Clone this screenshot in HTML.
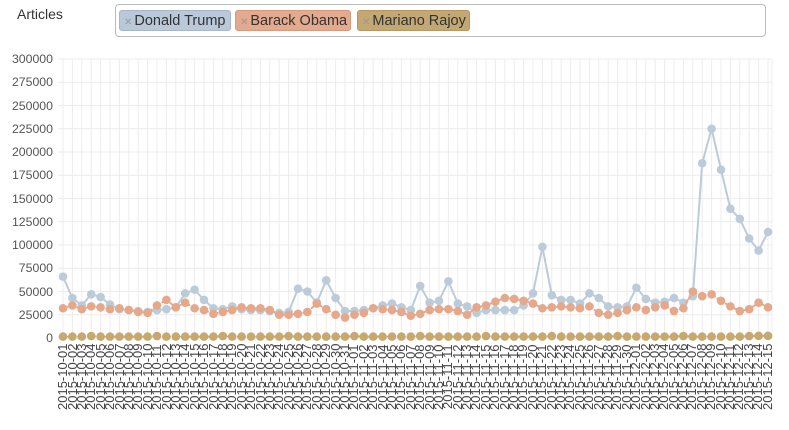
<!DOCTYPE html>
<html><head><meta charset="utf-8"><style>
body{margin:0;width:789px;height:430px;background:#fff;font-family:"Liberation Sans",Helvetica,Arial,sans-serif;position:relative;overflow:hidden}
.t{position:absolute;top:10px;height:21px;border-radius:3px;font-size:14.5px;line-height:21px;color:#333;padding-left:4px;box-sizing:border-box;white-space:nowrap}
.t b{color:#999;font-weight:normal;font-size:10px;margin-right:2px}
#labs{position:absolute;left:58.3px;top:344px;display:flex}
#labs span{display:block;width:9.4px;height:80px;writing-mode:vertical-rl;transform:rotate(180deg);text-align:right;font-size:13px;line-height:9.4px;color:#444;overflow:visible;white-space:nowrap}
</style></head><body>
<div style="position:absolute;left:17px;top:6px;font-size:14px;color:#333">Articles</div>
<div style="position:absolute;left:115px;top:4px;width:651px;height:33px;border:1px solid #bbb;border-radius:4px;box-sizing:border-box"></div>
<div class="t" style="left:119px;width:112px;background:#b9c9d9;border:1px solid #a7b7c7"><b>✕</b>Donald Trump</div>
<div class="t" style="left:235px;width:116px;background:#e3aa8e;border:1px solid #d39a7e"><b>✕</b>Barack Obama</div>
<div class="t" style="left:357px;width:113px;background:#c3a874;border:1px solid #b39864"><b>✕</b>Mariano Rajoy</div>
<svg id="s" width="789" height="430" style="position:absolute;left:0;top:0" font-family="Liberation Sans, sans-serif" font-size="12.3" fill="#555">
<g text-anchor="end">
<text x="53" y="63">300000</text><text x="53" y="86">275000</text><text x="53" y="110">250000</text><text x="53" y="133">225000</text><text x="53" y="156">200000</text><text x="53" y="179">175000</text><text x="53" y="203">150000</text><text x="53" y="226">125000</text><text x="53" y="249">100000</text><text x="53" y="272">75000</text><text x="53" y="296">50000</text><text x="53" y="319">25000</text><text x="53" y="342">0</text>
</g>
<g id="g"></g>
</svg>
<div id="labs">
<span>2015-10-01</span><span>2015-10-02</span><span>2015-10-03</span><span>2015-10-04</span><span>2015-10-05</span><span>2015-10-06</span><span>2015-10-07</span><span>2015-10-08</span><span>2015-10-09</span><span>2015-10-10</span><span>2015-10-11</span><span>2015-10-12</span><span>2015-10-13</span><span>2015-10-14</span><span>2015-10-15</span><span>2015-10-16</span><span>2015-10-17</span><span>2015-10-18</span><span>2015-10-19</span><span>2015-10-20</span><span>2015-10-21</span><span>2015-10-22</span><span>2015-10-23</span><span>2015-10-24</span><span>2015-10-25</span><span>2015-10-26</span><span>2015-10-27</span><span>2015-10-28</span><span>2015-10-29</span><span>2015-10-30</span><span>2015-10-31</span>
<span>2015-11-01</span><span>2015-11-02</span><span>2015-11-03</span><span>2015-11-04</span><span>2015-11-05</span><span>2015-11-06</span><span>2015-11-07</span><span>2015-11-08</span><span>2015-11-09</span><span>2015-11-10</span><span>2015-11-11</span><span>2015-11-12</span><span>2015-11-13</span><span>2015-11-14</span><span>2015-11-15</span><span>2015-11-16</span><span>2015-11-17</span><span>2015-11-18</span><span>2015-11-19</span><span>2015-11-20</span><span>2015-11-21</span><span>2015-11-22</span><span>2015-11-23</span><span>2015-11-24</span><span>2015-11-25</span><span>2015-11-26</span><span>2015-11-27</span><span>2015-11-28</span><span>2015-11-29</span><span>2015-11-30</span>
<span>2015-12-01</span><span>2015-12-02</span><span>2015-12-03</span><span>2015-12-04</span><span>2015-12-05</span><span>2015-12-06</span><span>2015-12-07</span><span>2015-12-08</span><span>2015-12-09</span><span>2015-12-10</span><span>2015-12-11</span><span>2015-12-12</span><span>2015-12-13</span><span>2015-12-14</span><span>2015-12-15</span>
</div>
<script>
var T=[66,43,35,47,44,36,31,30,29,28,30,31,33,48,52,41,32,31,34,31,30,30,29,27,28,53,50,38,62,43,29,29,30,32,35,37,33,30,56,38,40,61,37,34,27,30,30,30,30,35,48,98,46,41,41,37,48,43,34,33,34,54,42,38,39,43,38,45,188,225,181,139,128,107,94,114];
var O=[32,35,31,34,33,31,32,30,28,27,35,41,33,38,32,30,26,28,30,33,32,32,30,25,25,26,28,37,31,25,22,25,27,32,31,30,28,24,26,30,31,31,29,25,33,35,39,43,42,40,37,32,33,34,33,32,34,27,25,27,30,33,30,33,35,29,32,50,45,47,40,34,29,31,38,33];
var R=[];for(var i=0;i<76;i++)R.push(1.5+(i%7==3?0.6:0)+(i>=74?0.8:0));
var g=document.getElementById('g'),h='',X=function(i){return 63+i*9.4},Y=function(v){return 338-v*1000*279/300000};
h+='<g stroke="#ececec" stroke-width="1">';
for(var i=0;i<76;i++)h+='<line x1="'+X(i)+'" y1="59" x2="'+X(i)+'" y2="338"/>';
h+='<line x1="772" y1="59" x2="772" y2="338"/>';
for(var k=0;k<=12;k++){var y=338-k*23.25;h+='<line x1="58" y1="'+y+'" x2="772" y2="'+y+'"/>';}
h+='</g>';
function ser(d,c,dash){var p=d.map(function(v,i){return X(i)+','+Y(v)}).join(' ');
var s='<polyline points="'+p+'" fill="none" stroke="'+c+'" stroke-width="2"'+(dash?' stroke-dasharray="2,3" stroke-linecap="round"':'')+'/>';
d.forEach(function(v,i){s+='<circle cx="'+X(i)+'" cy="'+Y(v)+'" r="4.3" fill="'+c+'"/>'});return s;}
h+=ser(T,'#bccbda',0)+ser(O,'#e5a88a',1)+ser(R,'#c7a86f',1);
g.innerHTML=h;
</script>
</body></html>
